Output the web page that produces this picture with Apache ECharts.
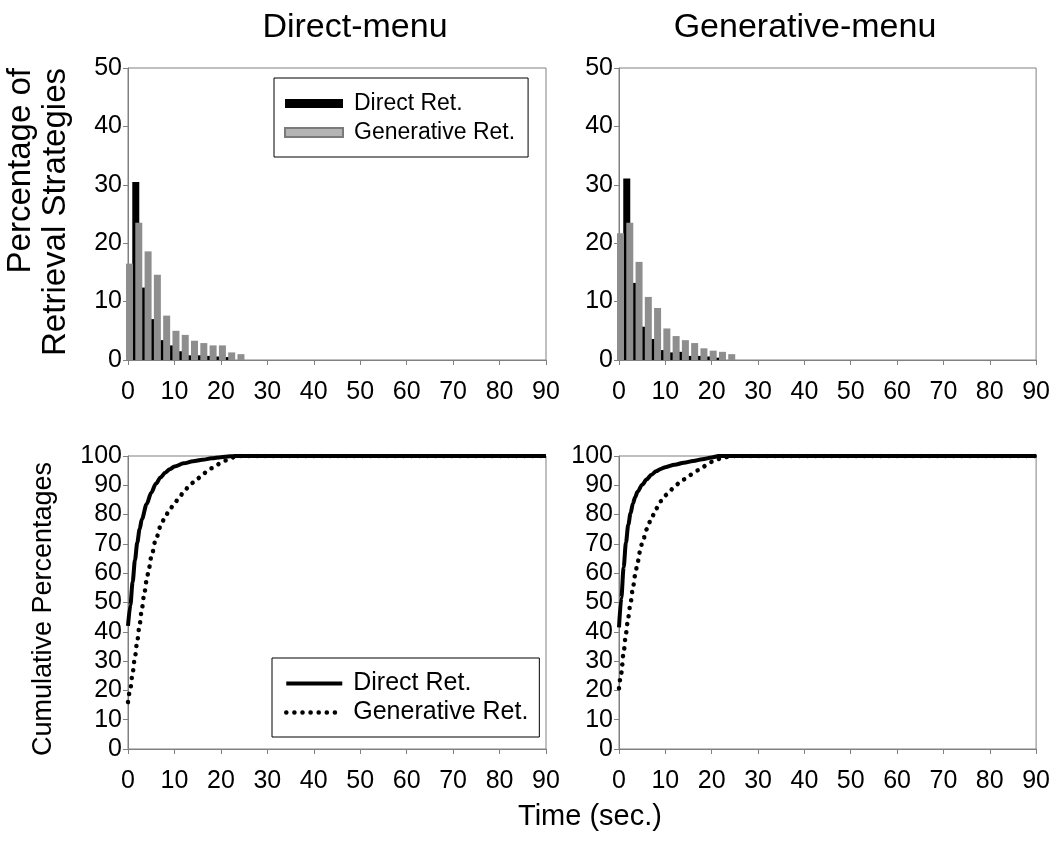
<!DOCTYPE html>
<html><head><meta charset="utf-8">
<script src="https://cdn.jsdelivr.net/npm/echarts@6/dist/echarts.min.js"></script>
<style>html,body{margin:0;padding:0;background:#fff}#c{width:1053px;height:859px}</style>
</head><body><div id="c"></div><script>
// ---- data ----
const grayTimes = [0, 2, 4, 6, 8, 10, 12, 14, 16, 18, 20, 22, 24];
const blackTimes = [2, 4, 6, 8, 10, 12, 14, 16, 18, 20, 22];
const dmGenerative = [16.5, 23.5, 18.6, 14.6, 7.6, 5.0, 4.3, 3.3, 2.9, 2.5, 2.5, 1.3, 1.0];
const dmDirect = [30.5, 12.4, 7.0, 3.4, 2.5, 1.5, 0.8, 0.8, 0.7, 0.6, 0.5];
const gmGenerative = [21.7, 23.5, 16.8, 10.8, 8.9, 5.4, 4.1, 3.4, 2.9, 2.0, 1.6, 1.4, 1.0];
const gmDirect = [31.1, 13.2, 5.7, 3.6, 1.7, 1.3, 1.4, 0.7, 0.7, 0.6, 0.4];

const dmCumDirectT = [0, 0.5, 1, 1.5, 2, 2.5, 3, 4, 5, 6, 7, 8, 9, 10, 12, 14, 16, 18, 20, 22, 23, 90];
const dmCumDirectV = [42, 49, 57, 64.5, 70.5, 75, 78.5, 83.5, 87.5, 90.5, 92.7, 94.3, 95.5, 96.4, 97.5, 98.2, 98.7, 99.2, 99.6, 99.9, 100, 100];
const dmCumGenT = [0, 0.5, 1, 1.5, 2, 2.5, 3, 3.5, 4, 4.5, 5, 6, 7, 8, 9, 10, 11, 12, 13, 14, 15, 16, 17, 18, 19, 20, 21, 22, 23, 24, 90];
const dmCumGenV = [16, 20.5, 26, 31.5, 37, 42.5, 48, 53, 57.5, 61.5, 65.5, 71.5, 76, 79.3, 81.8, 83.8, 85.8, 87.7, 89.4, 90.9, 92.3, 93.6, 94.7, 95.8, 96.8, 97.7, 98.5, 99.2, 99.7, 100, 100];
const gmCumDirectT = [0, 0.5, 1, 1.5, 2, 2.5, 3, 3.5, 4, 5, 6, 7, 8, 9, 10, 12, 14, 16, 18, 20, 21.5, 90];
const gmCumDirectV = [41.5, 51.5, 62, 70.5, 76.5, 80.5, 83.8, 86, 87.8, 90.2, 92.1, 93.6, 94.8, 95.6, 96.2, 97, 97.7, 98.3, 98.9, 99.5, 100, 100];
const gmCumGenT = [0, 0.5, 1, 1.5, 2, 2.5, 3, 3.5, 4, 4.5, 5, 6, 7, 8, 9, 10, 11, 12, 13, 14, 15, 16, 17, 18, 19, 20, 21, 22, 23, 24.4, 90];
const gmCumGenV = [20.7, 26, 33, 39.5, 45, 50, 55, 59.5, 63.5, 67.2, 70.3, 75, 78.8, 82, 84.6, 86.6, 88.2, 89.5, 90.8, 92, 93.1, 94.1, 95.1, 96.1, 97.1, 98, 98.7, 99.2, 99.6, 100, 100];

const panelTitles = ['Direct-menu', 'Generative-menu'];
const legendLabels = ['Direct Ret.', 'Generative Ret.'];

// ---- helpers ----
const FF = '"Liberation Sans", Arial, sans-serif';
const pair = (xs, ys) => xs.map((x, i) => [x, ys[i]]);
const axisGray = '#808080';

const grids = [
  {left: 128, top: 68, width: 418, height: 292},
  {left: 619, top: 68, width: 418, height: 292},
  {left: 128, top: 456, width: 418, height: 293},
  {left: 619, top: 456, width: 418, height: 293}
].map(g => Object.assign(g, {show: true, borderColor: axisGray, borderWidth: 1, backgroundColor: 'transparent'}));

const xAxes = [0, 1, 2, 3].map(i => ({
  type: 'value', gridIndex: i, min: 0, max: 90, interval: 10,
  axisLine: {show: true, onZero: false, lineStyle: {color: axisGray, width: 1}},
  axisTick: {show: true, length: 5, lineStyle: {color: axisGray}},
  axisLabel: {fontSize: 25, color: '#000', fontFamily: FF, margin: 20},
  splitLine: {show: false}
}));
const yAxes = [0, 1, 2, 3].map(i => ({
  type: 'value', gridIndex: i, min: 0, max: i < 2 ? 50 : 100, interval: 10,
  axisLine: {show: true, onZero: false, lineStyle: {color: axisGray, width: 1}},
  axisTick: {show: true, length: 5, lineStyle: {color: axisGray}},
  axisLabel: {fontSize: 25, color: '#000', fontFamily: FF, margin: 6},
  splitLine: {show: false}
}));

const barCommon = {type: 'bar', barWidth: 7, barGap: '-57%', animation: false};
const solidLine = {color: '#000', width: 4};
const dotLine = {color: '#000', width: 4.5, type: [0.1, 8], cap: 'round'};
const lineCommon = {type: 'line', symbol: 'none', smooth: 0.3, smoothMonotone: 'x', animation: false, itemStyle: {color: '#000'}};

const series = [
  Object.assign({}, barCommon, {name: 'Direct Ret.', xAxisIndex: 0, yAxisIndex: 0, data: pair(blackTimes, dmDirect), itemStyle: {color: '#000'}}),
  Object.assign({}, barCommon, {name: 'Generative Ret.', xAxisIndex: 0, yAxisIndex: 0, data: pair(grayTimes, dmGenerative), itemStyle: {color: '#8e8e8e'}}),
  Object.assign({}, barCommon, {name: 'gmDirect', xAxisIndex: 1, yAxisIndex: 1, data: pair(blackTimes, gmDirect), itemStyle: {color: '#000'}}),
  Object.assign({}, barCommon, {name: 'gmGenerative', xAxisIndex: 1, yAxisIndex: 1, data: pair(grayTimes, gmGenerative), itemStyle: {color: '#8e8e8e'}}),
  Object.assign({}, lineCommon, {name: 'cumGen', xAxisIndex: 2, yAxisIndex: 2, data: pair(dmCumGenT, dmCumGenV), lineStyle: dotLine}),
  Object.assign({}, lineCommon, {name: 'cumDirect', xAxisIndex: 2, yAxisIndex: 2, data: pair(dmCumDirectT, dmCumDirectV), lineStyle: solidLine}),
  Object.assign({}, lineCommon, {name: 'gmCumGen', xAxisIndex: 3, yAxisIndex: 3, data: pair(gmCumGenT, gmCumGenV), lineStyle: dotLine}),
  Object.assign({}, lineCommon, {name: 'gmCumDirect', xAxisIndex: 3, yAxisIndex: 3, data: pair(gmCumDirectT, gmCumDirectV), lineStyle: solidLine})
];

const hiddenSymbol = {color: 'rgba(0,0,0,0)', borderWidth: 0, opacity: 0};
const legends = [
  {
    left: 274, top: 78, orient: 'vertical', selectedMode: false, icon: 'rect',
    itemWidth: 58, itemHeight: 9, itemGap: 6,
    backgroundColor: '#fff', borderColor: '#000', borderWidth: 1, borderRadius: 0,
    padding: [14, 13, 13, 10],
    textStyle: {fontSize: 23, fontFamily: FF, color: '#000', padding: [0, 0, 0, 6]},
    data: [
      {name: 'Direct Ret.', itemStyle: {color: '#000'}},
      {name: 'Generative Ret.', itemStyle: {color: '#b4b4b4', borderColor: '#7a7a7a', borderWidth: 2}}
    ]
  },
  {
    left: 272, top: 658, orient: 'vertical', selectedMode: false,
    itemWidth: 56, itemHeight: 12, itemGap: 4,
    backgroundColor: '#fff', borderColor: '#000', borderWidth: 1, borderRadius: 0,
    padding: [13, 11, 12, 12],
    textStyle: {fontSize: 25, fontFamily: FF, color: '#000', padding: [0, 0, 0, 6]},
    formatter: n => n === 'cumDirect' ? legendLabels[0] : legendLabels[1],
    data: [
      {name: 'cumDirect', lineStyle: solidLine, itemStyle: hiddenSymbol},
      {name: 'cumGen', lineStyle: dotLine, itemStyle: hiddenSymbol}
    ]
  }
];

const txt = (text, x, y, size) => ({
  type: 'text', x: x, y: y,
  style: {text: text, font: size + 'px ' + FF, fill: '#000', align: 'center', verticalAlign: 'middle'}
});

const graphics = [
  txt(panelTitles[0], 355, 28, 34),
  txt(panelTitles[1], 805, 28, 34),
  txt('Time (sec.)', 590, 817, 29),
  {type: 'text', x: 21, y: 68, rotation: Math.PI / 2,
   style: {text: 'Percentage of', font: '33px ' + FF, fill: '#000', align: 'right', verticalAlign: 'middle'}},
  {type: 'text', x: 56, y: 68, rotation: Math.PI / 2,
   style: {text: 'Retrieval Strategies', font: '33px ' + FF, fill: '#000', align: 'right', verticalAlign: 'middle'}},
  {type: 'text', x: 44, y: 609, rotation: Math.PI / 2,
   style: {text: 'Cumulative Percentages', font: '27px ' + FF, fill: '#000', align: 'center', verticalAlign: 'middle'}}
];

const chart = echarts.init(document.getElementById('c'), null, {renderer: 'canvas'});
chart.setOption({
  backgroundColor: '#fff',
  animation: false,
  grid: grids,
  xAxis: xAxes,
  yAxis: yAxes,
  legend: legends,
  series: series,
  graphic: graphics
});
</script></body></html>
